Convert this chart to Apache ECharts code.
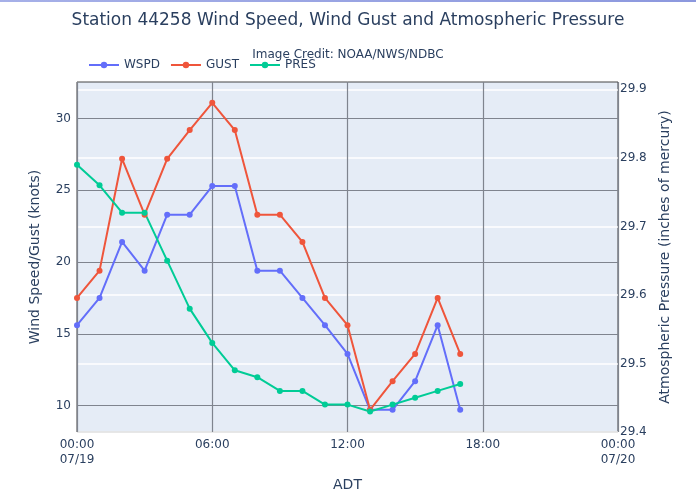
<!DOCTYPE html>
<html>
<head>
<meta charset="utf-8">
<script src="https://cdn.jsdelivr.net/npm/echarts@6/dist/echarts.min.js"></script>
<style>
html, body { margin: 0; padding: 0; background: #fff; }
#main { width: 696px; height: 498px; }
</style>
</head>
<body>
<div id="main"></div>
<script>
// hours after 00:00 ADT 07/19
var hours = [0, 1, 2, 3, 4, 5, 6, 7, 8, 9, 10, 11, 12, 13, 14, 15, 16, 17];
// knots
var wspd = [15.6, 17.5, 21.4, 19.4, 23.3, 23.3, 25.3, 25.3, 19.4, 19.4, 17.5, 15.6, 13.6, 9.7, 9.7, 11.7, 15.6, 9.7];
var gust = [17.5, 19.4, 27.2, 23.3, 27.2, 29.2, 31.1, 29.2, 23.3, 23.3, 21.4, 17.5, 15.6, 9.7, 11.7, 13.6, 17.5, 13.6];
// inches of mercury
var pres = [29.79, 29.76, 29.72, 29.72, 29.65, 29.58, 29.53, 29.49, 29.48, 29.46, 29.46, 29.44, 29.44, 29.43, 29.44, 29.45, 29.46, 29.47];
var leftTicks = [10, 15, 20, 25, 30];
var rightTicks = [29.4, 29.5, 29.6, 29.7, 29.8, 29.9];
var xTicks = [0, 6, 12, 18, 24];
var xLabels = { 0: '00:00\n07/19', 6: '06:00', 12: '12:00', 18: '18:00', 24: '00:00\n07/20' };

var font = 'DejaVu Sans';
var textColor = '#2a3f5f';

function pairs(arr) {
  return hours.map(function (h, i) { return [h, arr[i]]; });
}

var chart = echarts.init(document.getElementById('main'));

var lineSeries = function (name, data, color, axis) {
  return {
    name: name,
    type: 'line',
    yAxisIndex: axis,
    data: pairs(data),
    symbol: 'circle',
    symbolSize: 6,
    color: color,
    lineStyle: { width: 2, color: color },
    itemStyle: { color: color },
    animation: false
  };
};

chart.setOption({
  backgroundColor: '#fff',
  textStyle: { fontFamily: font },
  title: [{
    text: 'Station 44258 Wind Speed, Wind Gust and Atmospheric Pressure',
    left: 'center',
    top: 7,
    textStyle: { fontSize: 17, fontWeight: 'normal', color: textColor, fontFamily: font }
  }, {
    text: 'Image Credit: NOAA/NWS/NDBC',
    left: 'center',
    top: 44,
    textStyle: { fontSize: 12, fontWeight: 'normal', color: textColor, fontFamily: font }
  }],
  legend: {
    left: 83,
    top: 54,
    itemWidth: 30,
    itemHeight: 8,
    itemGap: 10,
    textStyle: { fontSize: 12, color: textColor, fontFamily: font },
    data: ['WSPD', 'GUST', 'PRES']
  },
  graphic: [{
    type: 'rect',
    shape: { x: 0, y: 0, width: 696, height: 2 },
    style: { fill: new echarts.graphic.LinearGradient(0, 0, 1, 0, [
      { offset: 0, color: '#a6b0e8' }, { offset: 1, color: '#8c98de' }
    ]) },
    silent: true
  }],
  grid: {
    left: 77, right: 78, top: 82, bottom: 66,
    show: true,
    backgroundColor: '#e5ecf6',
    borderColor: '#444',
    borderWidth: 1
  },
  xAxis: {
    type: 'value',
    min: 0, max: 24, interval: 6,
    name: 'ADT',
    nameLocation: 'middle',
    nameGap: 46,
    nameTextStyle: { fontSize: 14, color: textColor, fontFamily: font },
    axisLine: { show: false },
    axisTick: { show: false },
    axisLabel: {
      color: textColor, fontSize: 12, lineHeight: 15, fontFamily: font, margin: 5,
      formatter: function (v) { return xLabels[v] || ''; }
    },
    splitLine: { show: true, lineStyle: { color: '#7f848e', width: 1.2 } }
  },
  yAxis: [{
    type: 'value',
    min: 8.155, max: 32.55,
    name: 'Wind Speed/Gust (knots)',
    nameLocation: 'middle',
    nameGap: 35,
    nameTextStyle: { fontSize: 14, color: textColor, fontFamily: font },
    axisLine: { show: false },
    axisTick: { show: false, customValues: leftTicks },
    axisLabel: { color: textColor, fontSize: 12, margin: 6, customValues: leftTicks, fontFamily: font },
    splitLine: { show: true, lineStyle: { color: '#7f848e', width: 1.2 } }
  }, {
    type: 'value',
    min: 29.4, max: 29.9107,
    position: 'right',
    name: 'Atmospheric Pressure (inches of mercury)',
    nameLocation: 'middle',
    nameGap: 40,
    nameRotate: 90,
    nameTextStyle: { fontSize: 14, color: textColor, fontFamily: font },
    axisLine: { show: false },
    axisTick: { show: false, customValues: rightTicks },
    axisLabel: {
      color: textColor, fontSize: 12, margin: 2, customValues: rightTicks, fontFamily: font,
      formatter: function (v) { return v.toFixed(1); }
    },
    splitLine: { show: true, lineStyle: { color: '#ffffff', width: 1.5 } }
  }],
  series: [
    lineSeries('WSPD', wspd, '#636efa', 0),
    lineSeries('GUST', gust, '#ef553b', 0),
    lineSeries('PRES', pres, '#00cc96', 1)
  ]
});
</script>
</body>
</html>
